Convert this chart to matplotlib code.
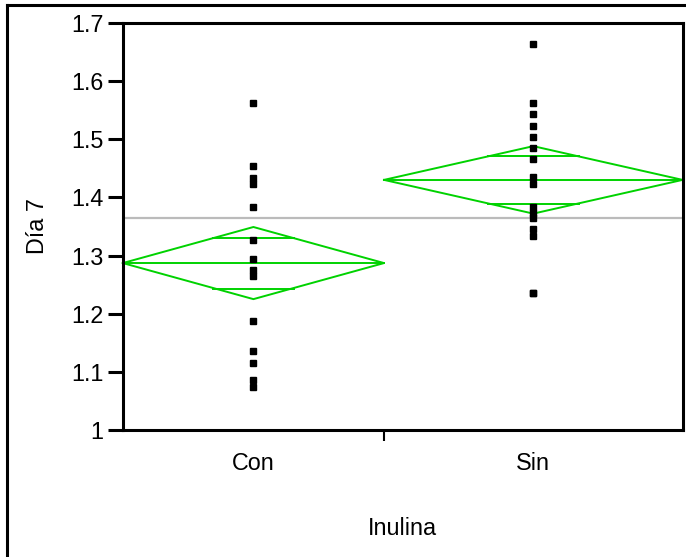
import numpy as np
import matplotlib
matplotlib.use('Agg')
import matplotlib.pyplot as plt
from matplotlib.lines import Line2D

plt.rcParams['font.family'] = ['Liberation Sans', 'DejaVu Sans']

# datos (Día 7 por grupo de Inulina)
groups = ['Con', 'Sin']
con_vals = [1.562, 1.454, 1.434, 1.423, 1.384, 1.326, 1.294, 1.275, 1.264,
            1.187, 1.136, 1.116, 1.086, 1.074]
sin_vals = [1.663, 1.562, 1.543, 1.523, 1.504, 1.485, 1.466, 1.435, 1.423,
            1.383, 1.373, 1.364, 1.345, 1.334, 1.236, 1.236]
group_means = [1.287, 1.430]
ci_half = [0.062, 0.058]
grand_mean = 1.364
y_ticks = [1, 1.1, 1.2, 1.3, 1.4, 1.5, 1.6, 1.7]

green = '#00D200'
fs = 16.8

fig = plt.figure(figsize=(6.86, 5.57), dpi=100)
ax = fig.add_axes([0.179, 0.228, 0.816, 0.731])

all_vals = [con_vals, sin_vals]
sizes = [len(v) for v in all_vals]
edges = np.concatenate([[0], np.cumsum(sizes)])
total = edges[-1]

ax.axhline(grand_mean, color='#bbbbbb', lw=1.6, zorder=1)

for i, vals in enumerate(all_vals):
    x0, x1 = edges[i], edges[i + 1]
    xc = (x0 + x1) / 2
    m = group_means[i]
    h = ci_half[i]
    # puntos
    ax.plot([xc] * len(vals), vals, 's', color='black', ms=4.6, zorder=3,
            clip_on=False)
    # diamante de medias
    ax.plot([x0, xc, x1, xc, x0], [m, m + h, m, m - h, m], color=green,
            lw=1.4, zorder=2, clip_on=False)
    ax.plot([x0, x1], [m, m], color=green, lw=1.4, zorder=2)
    # marcas de solapamiento
    d = h / np.sqrt(2)
    half_w = (x1 - x0) / 2 * (1 - 1 / np.sqrt(2)) + 0.1
    for yy in (m + d, m - d):
        ax.plot([xc - half_w, xc + half_w], [yy, yy], color=green, lw=1.4,
                zorder=2)

ax.set_xlim(0, total)
ax.set_ylim(1, 1.7)
ax.set_yticks(y_ticks)
ax.set_yticklabels(['1', '1.1', '1.2', '1.3', '1.4', '1.5', '1.6', '1.7'])

centers = (edges[:-1] + edges[1:]) / 2
ax.set_xticks(centers)
ax.set_xticklabels(groups)
ax.tick_params(axis='x', length=0, pad=16, labelsize=fs)
ax.set_xticks(edges[1:-1], minor=True)
ax.tick_params(axis='x', which='minor', length=8, width=1.5, direction='out')
ax.tick_params(axis='y', length=11, width=2.2, direction='out', pad=3,
               labelsize=fs)

for s in ax.spines.values():
    s.set_linewidth(2.2)

ax.set_ylabel('Día 7', fontsize=fs, labelpad=16)
ax.set_xlabel('Inulina', fontsize=fs, labelpad=30)

# marco exterior del informe
fig.add_artist(Line2D([0.0102, 0.0102], [0, 0.991], transform=fig.transFigure,
                      color='black', lw=2.2))
fig.add_artist(Line2D([0.0102, 1], [0.991, 0.991], transform=fig.transFigure,
                      color='black', lw=2.2))

fig.savefig('out.png', dpi=100)
